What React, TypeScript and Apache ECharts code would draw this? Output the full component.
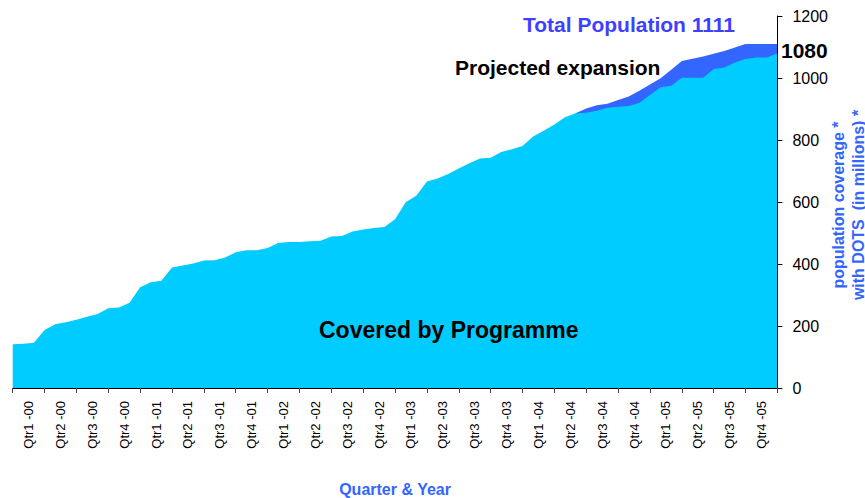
import React, { useEffect, useRef } from "react";
import * as echarts from "echarts";

const quarters: string[] = [
  "Qtr1 -00", "Qtr2 -00", "Qtr3 -00", "Qtr4 -00",
  "Qtr1 -01", "Qtr2 -01", "Qtr3 -01", "Qtr4 -01",
  "Qtr1 -02", "Qtr2 -02", "Qtr3 -02", "Qtr4 -02",
  "Qtr1 -03", "Qtr2 -03", "Qtr3 -03", "Qtr4 -03",
  "Qtr1 -04", "Qtr2 -04", "Qtr3 -04", "Qtr4 -04",
  "Qtr1 -05", "Qtr2 -05", "Qtr3 -05", "Qtr4 -05",
];

// monthly values (month 0 .. 72), population covered by programme (millions)
const covered: number[] = [
  141, 143, 146, 187, 206, 212, 220, 230, 239, 257, 260, 275,
  325, 341, 346, 389, 395, 402, 411, 412, 421, 438, 444, 444,
  452, 468, 471, 471, 473, 475, 489, 490, 505, 511, 516, 519,
  544, 599, 620, 666, 676, 690, 708, 725, 740, 743, 761, 770,
  781, 811, 830, 850, 873, 886, 888, 894, 904, 907, 910, 920,
  945, 970, 975, 1001, 1001, 1001, 1029, 1034, 1050, 1061, 1066, 1066,
  1080,
];

// projected expansion (total incl. projection), from month 53 to 72
const projectedStart = 53;
const projected: number[] = [
  886, 902, 912, 917, 929, 940, 959, 979, 999, 1027,
  1055, 1062, 1069, 1078, 1087, 1098, 1110, 1110, 1110, 1110,
];

const totalPopulation = 1111;
const yTicks = { min: 0, max: 1200, interval: 200 };
const yAxisTitle = "population coverage *\nwith DOTS  (in millions) *";

const FONT = "'Liberation Sans', Arial, sans-serif";

export default function App() {
  const ref = useRef<HTMLDivElement>(null);

  useEffect(() => {
    if (!ref.current) return;
    const chart = echarts.init(ref.current, undefined, { renderer: "svg" });
    const months = covered.length - 1;
    chart.setOption({
      animation: false,
      backgroundColor: "#ffffff",
      grid: {
        left: 12.7,
        right: 87.6,
        top: 16,
        bottom: 110,
        containLabel: false,
        outerBoundsMode: "none",
      },
      xAxis: [
        {
          type: "category",
          data: quarters,
          boundaryGap: true,
          position: "bottom",
          axisLine: { show: true, onZero: false, lineStyle: { color: "#000", width: 1 } },
          axisTick: { show: true, length: 5, lineStyle: { color: "#444" } },
          axisLabel: {
            rotate: 90,
            interval: 0,
            margin: 13,
            color: "#000",
            fontFamily: FONT,
            fontSize: 13,
          },
          splitLine: { show: false },
          name: "Quarter & Year",
          nameLocation: "middle",
          nameGap: 93,
          nameTextStyle: {
            color: "#3366ff",
            fontWeight: "bold",
            fontFamily: FONT,
            fontSize: 16,
          },
          z: 10,
        },
        {
          type: "value",
          min: 0,
          max: months,
          show: false,
        },
      ],
      yAxis: {
        type: "value",
        position: "right",
        min: yTicks.min,
        max: yTicks.max,
        interval: yTicks.interval,
        axisLine: { show: true, onZero: false, lineStyle: { color: "#000", width: 1 } },
        axisTick: { show: true, inside: false, length: 5, lineStyle: { color: "#000" } },
        axisLabel: {
          color: "#000",
          fontFamily: FONT,
          fontSize: 16,
          margin: 15,
          formatter: (v: number) => String(v),
        },
        splitLine: { show: false },
        z: 10,
      },
      series: [
        {
          name: "Projected expansion",
          type: "line",
          xAxisIndex: 1,
          data: projected.map((v, i) => [projectedStart + i, v]),
          symbol: "none",
          lineStyle: { width: 0 },
          areaStyle: { color: "#3366ff", opacity: 1 },
          silent: true,
          z: 2,
        },
        {
          name: "Covered by Programme",
          type: "line",
          xAxisIndex: 1,
          data: covered.map((v, i) => [i, v]),
          symbol: "none",
          lineStyle: { width: 0 },
          areaStyle: { color: "#00ccff", opacity: 1 },
          silent: true,
          z: 3,
        },
      ],
      graphic: [
        {
          type: "text",
          x: 848,
          y: 205,
          rotation: Math.PI / 2,
          style: {
            text: yAxisTitle,
            fill: "#3366ff",
            font: `bold 16px ${FONT}`,
            lineHeight: 20,
            align: "center",
            verticalAlign: "middle",
          },
          z: 20,
        },
        {
          type: "text",
          x: 523,
          y: 24,
          style: {
            text: "Total Population " + totalPopulation,
            fill: "#3f3fff",
            font: `bold 21px ${FONT}`,
            verticalAlign: "middle",
          },
          z: 20,
        },
        {
          type: "text",
          x: 455,
          y: 67,
          style: {
            text: "Projected expansion",
            fill: "#000",
            font: `bold 21px ${FONT}`,
            verticalAlign: "middle",
          },
          z: 20,
        },
        {
          type: "text",
          x: 781,
          y: 50,
          style: {
            text: String(covered[covered.length - 1]),
            fill: "#000",
            font: `bold 21px ${FONT}`,
            verticalAlign: "middle",
          },
          z: 20,
        },
        {
          type: "text",
          x: 319,
          y: 330,
          style: {
            text: "Covered by Programme",
            fill: "#000",
            font: `bold 23px ${FONT}`,
            verticalAlign: "middle",
          },
          z: 20,
        },
      ],
    });
    return () => chart.dispose();
  }, []);

  return <div ref={ref} style={{ width: 865, height: 498, position: "absolute", left: 0, top: 0 }} />;
}
